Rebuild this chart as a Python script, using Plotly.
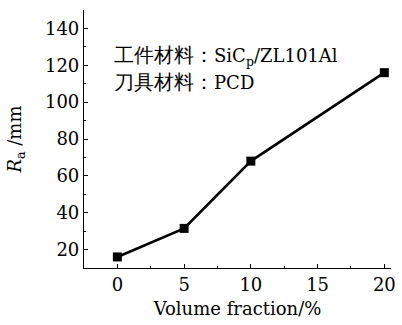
import plotly.graph_objects as go

# Surface roughness vs. SiC particle volume fraction
volume_fraction = [0, 5, 10, 20]
ra_values = [16, 31.5, 68, 116]

x_ticks = [0, 5, 10, 15, 20]
y_ticks = [20, 40, 60, 80, 100, 120, 140]

note_labels = ["工件材料：", "刀具材料："]
note_values = ["SiC<sub>p</sub>/ZL101Al", "PCD"]
note_y = [125, 111]

serif = "DejaVu Serif"

fig = go.Figure()
fig.add_trace(go.Scatter(
    x=volume_fraction, y=ra_values,
    mode="lines+markers",
    line=dict(color="black", width=2.6),
    marker=dict(symbol="square", size=9, color="black"),
    showlegend=False,
))

axis_common = dict(
    showline=True, linecolor="black", linewidth=1.2,
    ticks="inside", ticklen=4, tickwidth=1, tickcolor="black",
    showgrid=False, zeroline=False, mirror=False,
    tickfont=dict(family=serif, size=18, color="black"),
)

fig.update_xaxes(
    range=[-2.5, 20.5], tickvals=x_ticks,
    minor=dict(ticks="inside", ticklen=2, tickcolor="black", dtick=2.5, tick0=0),
    title=dict(text="Volume fraction/%", font=dict(family=serif, size=18, color="black"), standoff=8),
    **axis_common,
)
fig.update_yaxes(
    range=[10, 150], tickvals=y_ticks,
    minor=dict(ticks="inside", ticklen=2, tickcolor="black", dtick=10, tick0=0),
    title=dict(text="<i>R</i><sub>a</sub> /mm", font=dict(family=serif, size=18, color="black"), standoff=18),
    **axis_common,
)

for label, value, yv in zip(note_labels, note_values, note_y):
    fig.add_annotation(
        x=-0.4, y=yv, xref="x", yref="y",
        text=f"<span style='font-size:20px'>{label}</span>{value}",
        showarrow=False, xanchor="left", yanchor="middle",
        font=dict(family=serif, size=18, color="black"),
    )

fig.update_layout(
    width=402, height=325,
    margin=dict(l=84, r=6, t=10, b=57),
    paper_bgcolor="white", plot_bgcolor="white",
)

fig.write_html("out.html")
